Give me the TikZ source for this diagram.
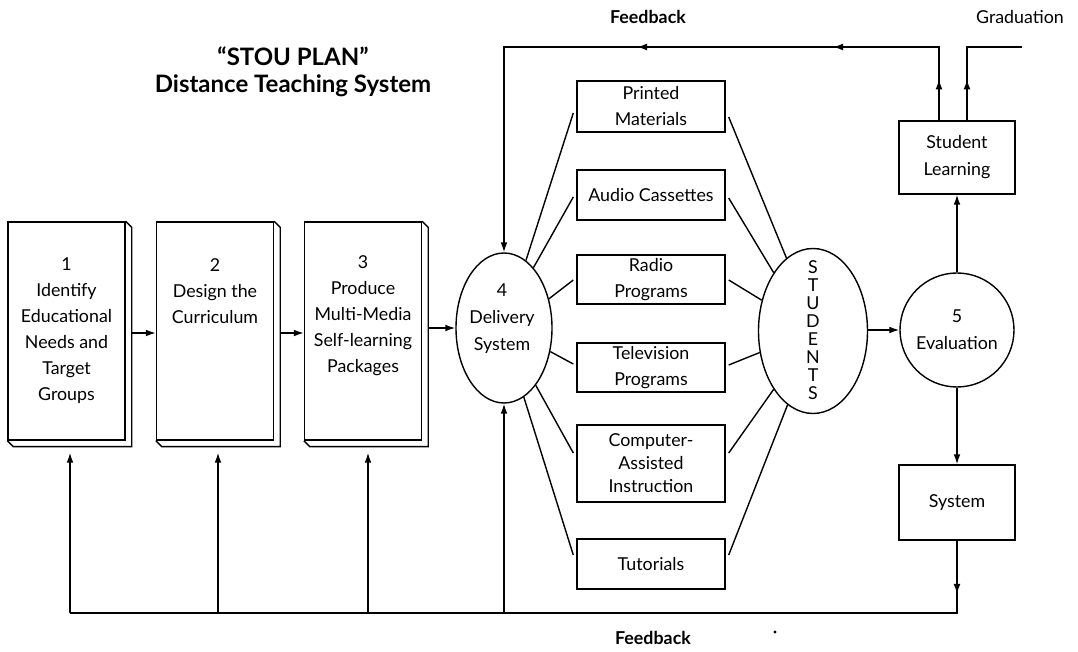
\documentclass[tikz,border=0pt]{standalone}
\usepackage{fontspec}
\setmainfont{Lato}
\usetikzlibrary{shapes.geometric,arrows.meta,calc}
\begin{document}
\begin{tikzpicture}[x=0.5pt,y=-0.5pt,
  line width=0.7pt,
  every node/.style={font=\fontsize{8.9}{13}\selectfont, inner sep=0pt, align=center},
  tip/.style={-{Latex[length=5pt,width=3.4pt]}},
  mbox/.style={draw, rectangle, minimum width=74pt},
  bigbox/.style={draw, rectangle, minimum width=58.5pt, minimum height=109pt},
  sbox/.style={draw, rectangle, minimum width=58pt},
  lbl/.style={font=\fontsize{8.9}{13}\selectfont\bfseries},
]
\useasboundingbox (0,0) rectangle (1078,652);

% title
\node[font=\fontsize{12}{13.5}\selectfont\bfseries] (title) at (293,72) {“STOU PLAN”\\Distance Teaching System};

% book boxes
\node[bigbox] (b1) at (66.5,331) {};
\node[bigbox] (b2) at (215,331) {};
\node[bigbox] (b3) at (363,331) {};
\foreach \b in {b1,b2,b3}{
  \draw (\b.north east) -- ++(6,6) |- ($(\b.south west)+(6,6)$) -- (\b.south west);
}
\node (t1) at (66.5,330.5) {1\\Identify\\Educational\\Needs and\\Target\\Groups};
\node (t2) at (215,291) {2\\Design the\\Curriculum};
\node (t3) at (363,316) {3\\Produce\\Multi-Media\\Self-learning\\Packages};

% delivery ellipse
\node[draw, ellipse, minimum width=48pt, minimum height=75pt] (del) at (504,328) {};
\node[font=\fontsize{8.9}{13.5}\selectfont] (delt) at (502,319) {4\\Delivery\\System};

% media boxes
\node[mbox, minimum height=25.5pt] (pm) at (651,106.5) {Printed\\Materials};
\node[mbox, minimum height=25pt] (ac) at (651,195) {Audio Cassettes};
\node[mbox, minimum height=24.5pt] (rp) at (651,279.5) {Radio\\Programs};
\node[mbox, minimum height=24.5pt] (tv) at (651,367.5) {Television\\Programs};
\node[mbox, minimum height=38.5pt, font=\fontsize{8.9}{11.5}\selectfont] (cai) at (651,463.5) {Computer-\\Assisted\\Instruction};
\node[mbox, minimum height=25pt] (tu) at (651,564) {Tutorials};

% students
\node[draw, ellipse, minimum width=54.5pt, minimum height=82.5pt] (stu) at (813,331) {};
\node[font=\fontsize{8.9}{9}\selectfont] (stut) at (813,330) {S\\T\\U\\D\\E\\N\\T\\S};

% evaluation
\node[draw, circle, minimum size=57pt, font=\fontsize{8.9}{13.5}\selectfont] (ev) at (957,330) {5\\Evaluation};

% student learning / system
\node[sbox, minimum height=36.5pt, font=\fontsize{8.9}{13.5}\selectfont] (sl) at (957,157.5) {Student\\Learning};
\node[sbox, minimum height=37.5pt] (sys) at (957,502.5) {System};

% flow arrows
\draw[tip] ($(b1.east)+(6,2)$) -- ($(b2.west)+(0,2)$);
\draw[tip] ($(b2.east)+(6,2)$) -- ($(b3.west)+(0,2)$);
\coordinate (b3r) at ($(b3.east)+(6,0)$);
\draw[tip] (b3r |- del.west) -- (del.west);
\draw[tip] (stu.east |- ev.west) -- (ev.west);
\draw[tip] (ev.north) -- (sl.south);
\draw[tip] (ev.south) -- (sys.north);

% delivery to media
\draw (del.72) -- ($(pm.west)+(-3,6.5)$);
\draw (del.64.5) -- ($(ac.west)+(-3,2)$);
\draw (del.33.7) -- ($(rp.west)+(-3,0.5)$);
\draw (del.-27.5) -- ($(tv.west)+(-3,-3.5)$);
\draw (del.-61) -- ($(cai.west)+(-3,-10.5)$);
\draw (del.-74.5) -- ($(tu.west)+(-3,-9)$);
% media to students
\draw ($(pm.east)+(3,10.5)$) -- (stu.110);
\draw ($(ac.east)+(3,3)$) -- (stu.124);
\draw ($(rp.east)+(3,0.5)$) -- (stu.149);
\draw ($(tv.east)+(3,-2.5)$) -- (stu.202);
\draw ($(cai.east)+(3,-10.5)$) -- (stu.236);
\draw ($(tu.east)+(3,-9)$) -- (stu.251);

% bottom feedback
\coordinate (fbR) at (957,613);
\coordinate (fbL) at (70,613);
\coordinate (sysa) at (957,594);
\draw (sys.south) -- (fbR) -- (fbL);
\draw[tip] (sys.south) -- (sysa);
\coordinate (r1) at ($(b1.south)+(3.5,12)$);
\coordinate (r2) at ($(b2.south)+(3,12)$);
\coordinate (r3) at ($(b3.south)+(5,12)$);
\draw[tip] (r1 |- fbL) -- (r1);
\draw[tip] (r2 |- fbL) -- (r2);
\draw[tip] (r3 |- fbL) -- (r3);
\draw[tip] (del.south |- fbL) -- (del.south);

% top feedback
\coordinate (tl) at (504,47);
\coordinate (slA) at ($(sl.north)+(-18,0)$);
\coordinate (slB) at ($(sl.north)+(10,0)$);
\coordinate (gr) at (1022,47);
\coordinate (slAa) at ($(slA)+(0,-41)$);
\coordinate (slBa) at ($(slB)+(0,-41)$);
\coordinate (ta1) at (833,47);
\coordinate (ta2) at (637,47);
\draw[tip] (slA) -- (slA |- tl) -- (tl) -- (del.north);
\draw[tip] (slA) -- (slAa);
\draw[tip] (slA |- tl) -- (ta1);
\draw[tip] (ta1) -- (ta2);
\draw (slB) -- (slB |- gr) -- (gr);
\draw[tip] (slB) -- (slBa);

% labels
\node[lbl] (fbtop) at (648,17) {Feedback};
\node (grad) at (1020,17) {Graduation};
\node[lbl] (fbbot) at (653,638) {Feedback};
\fill (775,632) circle (0.8pt);
\end{tikzpicture}
\end{document}
